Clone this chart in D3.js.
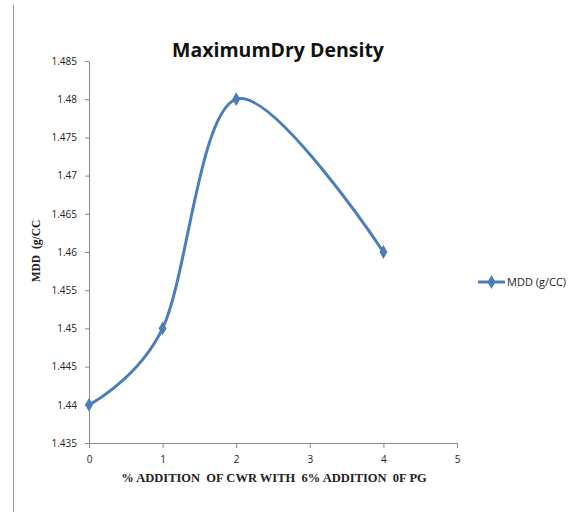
<!DOCTYPE html>
<html>
<head>
<meta charset="utf-8">
<script src="https://cdn.jsdelivr.net/npm/d3@7"></script>
<style>
  body { margin: 0; background: #fff; }
  svg { display: block; }
  text { white-space: pre; }
  .axis path, .axis line { stroke: #868686; }
  .axis text { font-family: "Open Sans", sans-serif; font-size: 10px; fill: #222; }
</style>
</head>
<body>
<svg id="chart" width="580" height="512"></svg>
<script>
// data
const cwrPercent = [0, 1, 2, 4];
const mddValues = [1.44, 1.45, 1.48, 1.46];
const yTicks = [1.435, 1.44, 1.445, 1.45, 1.455, 1.46, 1.465, 1.47, 1.475, 1.48, 1.485];
const xTicks = [0, 1, 2, 3, 4, 5];
const seriesName = "MDD (g/CC)";

const svg = d3.select("#chart"),
  margin = { top: 61, left: 89 },
  width = 457 - 89,
  height = 443 - 61,
  blue = "#4a7ebb";

// left frame edge
svg.append("line")
  .attr("x1", 13.5).attr("x2", 13.5)
  .attr("y1", 5).attr("y2", 512)
  .attr("stroke", "#9a9a9a").attr("stroke-width", 1);

const g = svg.append("g")
  .attr("transform", "translate(" + margin.left + "," + margin.top + ")");

const x = d3.scaleLinear().domain([0, 5]).range([0, width]);
const y = d3.scaleLinear().domain([1.435, 1.485]).range([height, 0]);

g.append("g")
  .attr("class", "axis x")
  .attr("transform", "translate(0," + height + ")")
  .call(d3.axisBottom(x).tickValues(xTicks).tickSize(5).tickSizeOuter(0).tickPadding(8).tickFormat(d3.format("d")));

g.append("g")
  .attr("class", "axis y")
  .call(d3.axisLeft(y).tickValues(yTicks).tickSize(4).tickSizeOuter(0).tickPadding(8).tickFormat((d) => String(+d.toFixed(3))));

const points = cwrPercent.map((c, i) => ({ c: c, v: mddValues[i] }));

g.append("path")
  .datum(points)
  .attr("fill", "none")
  .attr("stroke", blue)
  .attr("stroke-width", 3)
  .attr("d", d3.line().x((d) => x(d.c)).y((d) => y(d.v)).curve(d3.curveCardinal.tension(0)));

const diamond = d3.symbol().type(d3.symbolDiamond).size(55);

g.selectAll(".pt")
  .data(points)
  .enter()
  .append("path")
  .attr("class", "pt")
  .attr("transform", (d) => "translate(" + x(d.c) + "," + y(d.v) + ")")
  .attr("d", diamond)
  .attr("fill", blue);

// title
svg.append("text")
  .attr("x", 278).attr("y", 57)
  .attr("text-anchor", "middle")
  .style("font-family", "'Open Sans', sans-serif")
  .style("font-weight", "bold")
  .style("font-size", "19.5px")
  .attr("fill", "#111")
  .text("MaximumDry Density");

// axis titles
svg.append("text")
  .attr("transform", "translate(40,251) rotate(-90)")
  .attr("text-anchor", "middle")
  .style("font-family", "'Liberation Serif', serif")
  .style("font-weight", "bold")
  .style("font-size", "11.5px")
  .attr("fill", "#222")
  .text("MDD  (g/CC");

svg.append("text")
  .attr("x", 274).attr("y", 482)
  .attr("text-anchor", "middle")
  .style("font-family", "'Liberation Serif', serif")
  .style("font-weight", "bold")
  .style("font-size", "12.5px")
  .attr("fill", "#222")
  .text("% ADDITION  OF CWR WITH  6% ADDITION  0F PG");

// legend
const lg = svg.append("g").attr("transform", "translate(478,282)");
lg.append("line").attr("x1", 0).attr("x2", 27).attr("y1", 0).attr("y2", 0)
  .attr("stroke", blue).attr("stroke-width", 3);
lg.append("path").attr("transform", "translate(13.5,0)").attr("d", diamond).attr("fill", blue);
lg.append("text").attr("x", 29).attr("y", 4)
  .style("font-family", "'Open Sans', sans-serif")
  .style("font-size", "11px")
  .attr("fill", "#222")
  .text(seriesName);
</script>
</body>
</html>
